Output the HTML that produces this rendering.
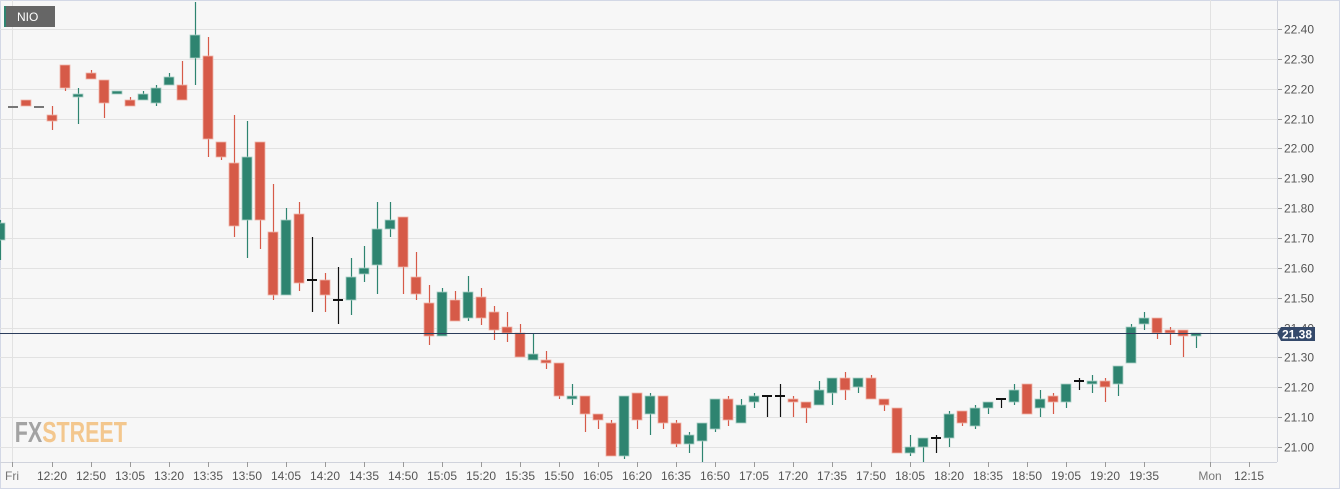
<!DOCTYPE html>
<html><head><meta charset="utf-8"><style>
html,body{margin:0;padding:0;background:#fff}
svg{display:block;font-family:"Liberation Sans",sans-serif}
</style></head><body>
<svg id="s" width="1340" height="489" viewBox="0 0 1340 489" xmlns="http://www.w3.org/2000/svg">
<rect x="0" y="0" width="1340" height="489" fill="#f7f7f7"/>
<rect x="0.5" y="0.5" width="1339" height="488" fill="none" stroke="#d3d8e6"/>
<g id="grid" stroke="#e2e2e2" stroke-width="1"></g>
<line x1="12.5" y1="0" x2="12.5" y2="462" stroke="#e2e2e2"/>
<line x1="1210.5" y1="0" x2="1210.5" y2="462" stroke="#e2e2e2"/>
<line x1="1277.5" y1="0" x2="1277.5" y2="462" stroke="#d0d3dc"/>
<line x1="0" y1="462.5" x2="1277" y2="462.5" stroke="#d0d3dc"/>
<g id="ylab" font-size="12" fill="#555"></g>
<g id="xlab" font-size="12" fill="#555" text-anchor="middle"></g>
<text y="442" font-size="29" font-weight="bold" transform="scale(0.74,1)"><tspan fill="#a3a3a3" x="20">FX</tspan><tspan fill="#f3c78e">STREET</tspan></text>
<g id="c"></g>
<line x1="0" y1="333.5" x2="1277" y2="333.5" stroke="#2b3d5c" stroke-width="1"/>
<path d="M1277 333.5 L1281 327 L1315 327 L1315 341 L1281 341 Z" fill="#34496b"/>
<text x="1297" y="338.5" font-size="12" font-weight="bold" fill="#fff" text-anchor="middle">21.38</text>
<rect x="4" y="6" width="51" height="21" fill="#666"/>
<rect x="4" y="6" width="2" height="21" fill="#2e8470"/>
<text x="17" y="21" font-size="12" fill="#fff">NIO</text>
</svg>
<script>
var NS="http://www.w3.org/2000/svg";
function el(p,t,a,txt){var e=document.createElementNS(NS,t);for(var k in a)e.setAttribute(k,a[k]);if(txt)e.textContent=txt;document.getElementById(p).appendChild(e);}
for(var i=0;i<15;i++){var v=22.40-0.1*i,y=Math.round(29+i*29.86)+0.5;
 el("grid","line",{x1:0,y1:y,x2:1277,y2:y});
 el("grid","line",{x1:1277,y1:y,x2:1282,y2:y,stroke:"#999"});
 el("ylab","text",{x:1284,y:y+4},v.toFixed(2));}
var xl=["12:20","12:50","13:05","13:20","13:35","13:50","14:05","14:20","14:35","14:50","15:05","15:20","15:35","15:50","16:05","16:20","16:35","16:50","17:05","17:20","17:35","17:50","18:05","18:20","18:35","18:50","19:05","19:20","19:35"];
function xt(x,t,c){el("xlab","line",{x1:x+.5,y1:462,x2:x+.5,y2:467,stroke:"#999"});el("xlab","text",{x:x,y:480,fill:c||"#555"},t);}
xt(12,"Fri","#777");
xl.forEach(function(t,k){xt(52+39*k,t);});
xt(1210,"Mon","#777");xt(1249,"12:15");
var D=[
[220,223,240,260,"g"],[107,107,107,107,"n"],[100,100,106,106,"r"],[107,107,107,107,"n"],[106,115,121,130,"r"],
[65,65,88,91,"r"],[88,94,97,124,"g"],[70,73,79,79,"r"],[80,80,103,118,"r"],[91,91,94,94,"g"],
[97,100,106,106,"r"],[91,94,100,100,"g"],[85,88,103,106,"g"],[73,77,85,85,"g"],[61,85,100,100,"r"],
[2,35,58,85,"g"],[37,56,139,157,"r"],[142,142,157,160,"r"],[115,163,226,237,"r"],[121,157,220,258,"g"],
[142,142,220,249,"r"],[184,232,295,300,"r"],[208,220,295,295,"g"],[202,214,283,291,"r"],[237,280,280,312,"d"],
[273,280,295,312,"r"],[267,300,300,324,"d"],[258,277,300,315,"g"],[246,268,274,282,"g"],[202,229,265,294,"g"],
[202,220,229,237,"g"],[217,217,267,294,"r"],[252,277,294,300,"r"],[285,303,336,345,"r"],[288,292,336,336,"g"],
[291,300,321,321,"r"],[276,292,318,321,"g"],[288,297,318,325,"r"],[306,312,330,340,"r"],[312,327,333,342,"r"],
[324,333,357,357,"r"],[333,354,360,360,"g"],[351,360,363,369,"r"],[363,363,396,399,"r"],[384,396,399,405,"g"],
[396,396,414,432,"r"],[414,414,420,429,"r"],[420,423,456,456,"r"],[396,396,456,459,"g"],[393,393,420,429,"r"],
[393,396,414,435,"g"],[396,396,423,429,"r"],[420,423,444,447,"r"],[432,435,444,453,"g"],[423,423,441,462,"g"],
[399,399,429,432,"g"],[396,399,420,426,"r"],[399,405,423,423,"g"],[393,396,402,408,"g"],[396,396,396,417,"d"],
[384,396,396,417,"d"],[396,399,402,417,"r"],[402,402,408,423,"r"],[381,390,405,405,"g"],[378,378,393,405,"g"],
[372,378,390,400,"r"],[378,378,387,393,"g"],[375,378,399,399,"r"],[399,399,405,411,"r"],[408,408,453,453,"r"],
[435,447,453,456,"g"],[438,438,447,462,"g"],[435,438,438,453,"d"],[411,414,438,447,"g"],[411,411,423,426,"r"],
[405,408,426,429,"g"],[402,402,408,414,"g"],[399,399,399,408,"d"],[384,390,402,405,"g"],[384,384,414,414,"r"],
[390,399,408,417,"g"],[393,396,402,414,"r"],[384,384,402,408,"g"],[378,381,381,390,"d"],[375,381,384,393,"g"],
[378,381,387,402,"r"],[366,366,384,396,"g"],[324,327,363,363,"g"],[312,318,324,330,"g"],[318,318,333,339,"r"],
[327,330,333,345,"r"],[330,330,336,357,"r"],[333,333,336,348,"g"]];
D.forEach(function(d,i){var x=13*i;var t=d[4];
 var col=t=="g"?"#2e8470":t=="r"?"#d65a48":t=="d"?"#111":"#777";
 var bc=t=="g"?"#a9cfc5":t=="r"?"#efb3a8":col;
 if(d[3]>d[0])el("c","line",{x1:x+.5,y1:d[0],x2:x+.5,y2:d[3],stroke:col,"stroke-width":1.2});
 var h=d[2]-d[1];
 if(h<2){el("c","rect",{x:x-5,y:d[1]-1,width:10,height:2,fill:col});}
 else el("c","rect",{x:x-5,y:d[1],width:10,height:h,fill:col,stroke:bc,"stroke-width":0.8});
});
</script>
</body></html>
